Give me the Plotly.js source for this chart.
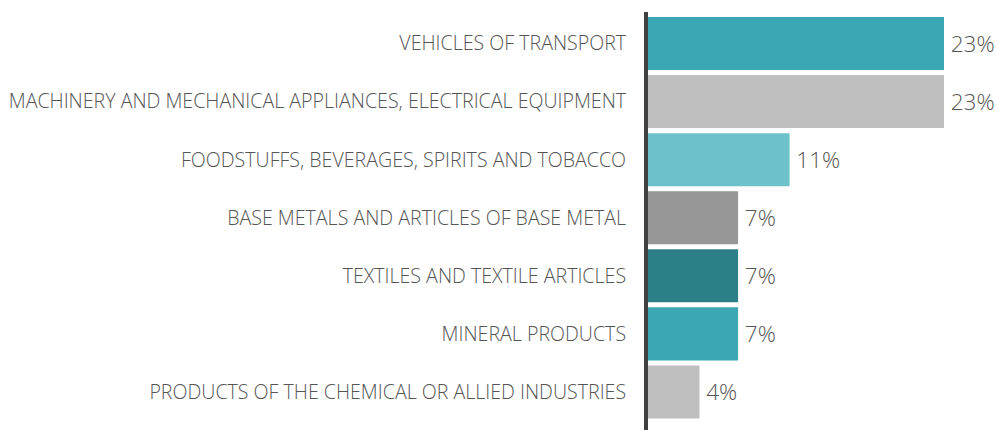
<!DOCTYPE html>
<html><head><meta charset="utf-8">
<script src="https://cdn.plot.ly/plotly-3.0.1.min.js"></script>
<style>html,body{margin:0;padding:0;background:#fff}#chart{width:996px;height:430px}</style>
</head><body><div id="chart"></div>
<script>
const categories = [
  "VEHICLES OF TRANSPORT",
  "MACHINERY AND MECHANICAL APPLIANCES, ELECTRICAL EQUIPMENT",
  "FOODSTUFFS, BEVERAGES, SPIRITS AND TOBACCO",
  "BASE METALS AND ARTICLES OF BASE METAL",
  "TEXTILES AND TEXTILE ARTICLES",
  "MINERAL PRODUCTS",
  "PRODUCTS OF THE CHEMICAL OR ALLIED INDUSTRIES"
];
const shares = [23, 23, 11, 7, 7, 7, 4];
const barColors = ["#3ba7b4", "#bfbfbf", "#6cc1cb", "#979797", "#2d7f87", "#3ba7b4", "#bfbfbf"];

const trace = {
  type: "bar",
  orientation: "h",
  y: categories,
  x: shares,
  marker: {color: barColors},
  text: shares.map(v => "\u2009" + v + "%"),
  textposition: "outside",
  cliponaxis: false,
  textfont: {family: "Open Sans", size: 22.5, color: "#555555", weight: 300},
  hoverinfo: "none"
};

const layout = {
  width: 996, height: 430,
  margin: {l: 648, r: 0, t: 12, b: 0},
  paper_bgcolor: "#ffffff", plot_bgcolor: "#ffffff",
  showlegend: false,
  bargap: 0.087,
  xaxis: {range: [0, 27.04], visible: false, showgrid: false, zeroline: false},
  yaxis: {
    range: [6.655, -0.542],
    showline: true, linecolor: "#404040", linewidth: 4,
    showgrid: false, zeroline: false, ticks: "",
    ticklabelstandoff: 14,
    tickfont: {family: "Open Sans", size: 19.6, color: "#555555", weight: 300}
  },
  font: {family: "Open Sans"}
};

Plotly.newPlot("chart", [trace], layout, {displayModeBar: false, staticPlot: true});
</script>
</body></html>
